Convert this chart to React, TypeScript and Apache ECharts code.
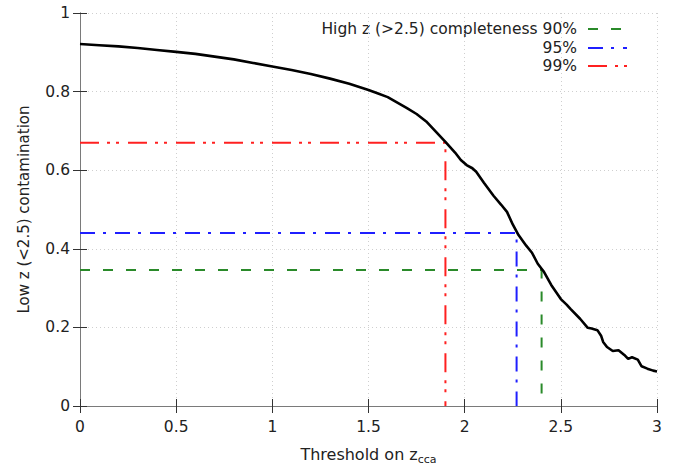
import React, { useEffect, useRef } from "react";
import * as echarts from "echarts";

const curveX = [0, 0.1, 0.2, 0.3, 0.4, 0.5, 0.6, 0.7, 0.8, 0.9, 1.0, 1.1, 1.2, 1.3, 1.4, 1.5, 1.55, 1.6, 1.65, 1.7, 1.75, 1.8, 1.85, 1.9, 1.95, 1.98, 2.01, 2.04, 2.06, 2.1, 2.15, 2.19, 2.22, 2.25, 2.28, 2.32, 2.35, 2.38, 2.41, 2.45, 2.5, 2.53, 2.55, 2.6, 2.64, 2.66, 2.69, 2.71, 2.72, 2.74, 2.77, 2.8, 2.83, 2.85, 2.87, 2.9, 2.92, 2.95, 2.98, 3.0];
const curveY = [0.921, 0.918, 0.915, 0.911, 0.906, 0.901, 0.896, 0.889, 0.882, 0.873, 0.864, 0.855, 0.845, 0.833, 0.82, 0.804, 0.795, 0.786, 0.772, 0.758, 0.743, 0.724, 0.698, 0.672, 0.645, 0.626, 0.613, 0.605, 0.596, 0.568, 0.535, 0.512, 0.494, 0.462, 0.435, 0.408, 0.39, 0.362, 0.343, 0.308, 0.272, 0.258, 0.247, 0.222, 0.199, 0.197, 0.193, 0.178, 0.163, 0.15, 0.14, 0.142, 0.13, 0.12, 0.124, 0.118, 0.101, 0.095, 0.09, 0.088];

const thresholdLabels = ["90%", "95%", "99%"];
const thresholdX = [2.4, 2.27, 1.9];
const thresholdY = [0.346, 0.44, 0.67];
const thresholdColors = ["#2a8a2a", "#1f1fff", "#ff2020"];
const thresholdDash = [[10, 13], [15, 8, 3, 9], [19, 8, 3, 6, 3, 9]];

const FONT = "DejaVu Sans";

export default function App() {
  const ref = useRef<HTMLDivElement>(null);
  useEffect(() => {
    document.body.style.margin = "0";
    const chart = echarts.init(ref.current!, null, { renderer: "svg" });
    const axisLineStyle = { color: "#7a7a7a", width: 1 };
    const series: any[] = [];
    thresholdX.forEach((tx, i) => {
      series.push({
        type: "line",
        data: [[0, thresholdY[i]], [tx, thresholdY[i]], [tx, 0]],
        symbol: "none",
        lineStyle: { color: thresholdColors[i], width: 2, type: thresholdDash[i] },
        z: 2,
      });
    });
    series.push({
      type: "line",
      data: curveX.map((x, i) => [x, curveY[i]]),
      symbol: "none",
      lineStyle: { color: "#000", width: 2.6 },
      z: 3,
    });

    const legendGraphics: any[] = [];
    const rowsY = [29, 48, 66];
    thresholdLabels.forEach((lab, i) => {
      legendGraphics.push({
        type: "text",
        x: 577,
        y: rowsY[i],
        style: {
          text: i === 0 ? "High z (>2.5) completeness " + lab : lab,
          align: "right",
          verticalAlign: "middle",
          fontSize: 15.5,
          fontFamily: FONT,
          fill: "#222",
        },
      });
      legendGraphics.push({
        type: "line",
        shape: { x1: 588, y1: rowsY[i], x2: 627, y2: rowsY[i] },
        style: { stroke: thresholdColors[i], lineWidth: 2, lineDash: thresholdDash[i] },
      });
    });

    chart.setOption({
      animation: false,
      backgroundColor: "#fff",
      grid: { left: 80, right: 28, top: 13, bottom: 60, outerBoundsMode: "none", containLabel: false },
      xAxis: [
        {
          type: "value",
          min: 0,
          max: 3,
          interval: 0.5,
          position: "bottom",
          name: "{a|Threshold on z}{sub|cca}",
          nameLocation: "middle",
          nameGap: 37,
          nameTextStyle: {
            rich: {
              a: { fontSize: 16, fontFamily: FONT, color: "#222", lineHeight: 22, verticalAlign: "middle" },
              sub: { fontSize: 11, fontFamily: FONT, color: "#222", lineHeight: 11, verticalAlign: "bottom" },
            },
          },
          axisLine: { show: true, lineStyle: axisLineStyle },
          axisTick: { show: true, inside: true, length: 7, lineStyle: { color: "#333" } },
          axisLabel: { fontSize: 15.5, fontFamily: FONT, color: "#222", margin: 13 },
          splitLine: { show: true, lineStyle: { color: "#cfcfcf", type: [1, 3], width: 1 } },
        },
        {
          type: "value",
          min: 0,
          max: 3,
          interval: 0.5,
          position: "top",
          axisLine: { show: true, lineStyle: axisLineStyle },
          axisTick: { show: true, inside: true, length: 7, lineStyle: { color: "#333" } },
          axisLabel: { show: false },
          splitLine: { show: false },
        },
      ],
      yAxis: [
        {
          type: "value",
          min: 0,
          max: 1,
          interval: 0.2,
          position: "left",
          name: "Low z (<2.5) contamination",
          nameLocation: "middle",
          nameGap: 49,
          nameTextStyle: { fontSize: 15, fontFamily: FONT, color: "#222" },
          axisLine: { show: true, lineStyle: axisLineStyle },
          axisTick: { show: true, inside: true, length: 7, lineStyle: { color: "#333" } },
          axisLabel: { fontSize: 15.5, fontFamily: FONT, color: "#222", margin: 10 },
          splitLine: { show: true, lineStyle: { color: "#cfcfcf", type: [1, 3], width: 1 } },
        },
        {
          type: "value",
          min: 0,
          max: 1,
          interval: 0.2,
          position: "right",
          axisLine: { show: true, lineStyle: axisLineStyle },
          axisTick: { show: true, inside: true, length: 7, lineStyle: { color: "#333" } },
          axisLabel: { show: false },
          splitLine: { show: false },
        },
      ],
      series,
      graphic: legendGraphics,
    });
    return () => chart.dispose();
  }, []);
  return <div ref={ref} style={{ width: 685, height: 466 }} />;
}
